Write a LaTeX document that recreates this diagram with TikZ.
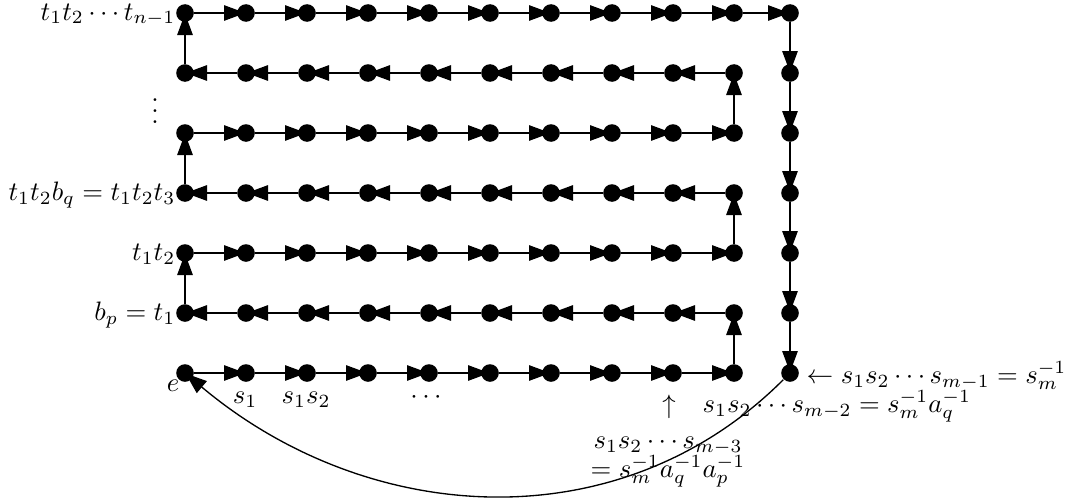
\documentclass[tikz,border=0pt]{standalone}
\usetikzlibrary{arrows.meta}
\begin{document}
\begin{tikzpicture}[x=0.375pt,y=-0.375pt,line width=0.5pt,
  vtx/.style={circle,fill=black,inner sep=0pt,minimum size=6.6pt},
  arr/.style={-{Triangle[length=8pt,width=5.8pt]},shorten >=-3.3pt},
  lbl/.style={inner sep=0pt,anchor=base}]
\useasboundingbox (0,0) rectangle (1070,503);
% grid vertices
\foreach \i in {0,...,9}
  \foreach \j in {0,...,6}
    \node[vtx] (n\i\j) at ({185+61*\i},{13+60*\j}) {};
\foreach \j in {0,...,6}
  \node[vtx] (r\j) at (790,{13+60*\j}) {};
% rows going right
\foreach \j in {0,2,4,6}
  \foreach \i [count=\k] in {0,...,8}
    \draw[arr] (n\i\j) -- (n\k\j);
% rows going left
\foreach \j in {1,3,5}
  \foreach \i [count=\k] in {0,...,8}
    \draw[arr] (n\k\j) -- (n\i\j);
% vertical links
\draw[arr] (n96) -- (n95);
\draw[arr] (n94) -- (n93);
\draw[arr] (n92) -- (n91);
\draw[arr] (n05) -- (n04);
\draw[arr] (n03) -- (n02);
\draw[arr] (n01) -- (n00);
% top to right column
\draw[arr] (n90) -- (r0);
\foreach \j [count=\k] in {0,...,5}
  \draw[arr] (r\j) -- (r\k);
% return curve
\draw[arr] (r6) to[out=-135,in=-40] (n06);
% labels
\node[lbl,anchor=base east] (Ltop) at (176,20) {$t_1t_2\cdots t_{n-1}$};
\node[lbl] (Lvd) at (155,123) {$\vdots$};
\node[lbl,anchor=base east] (Lbq) at (176,200) {$t_1t_2b_q = t_1t_2t_3$};
\node[lbl,anchor=base east] (Ltt) at (176,260) {$t_1t_2$};
\node[lbl,anchor=base east] (Lbp) at (176,320) {$b_p = t_1$};
\node[lbl] (Le) at (173,391) {$e$};
\node[lbl] (Ls1) at (245,403) {$s_1$};
\node[lbl] (Ls12) at (306,403) {$s_1s_2$};
\node[lbl] (Ldots) at (426,403) {$\cdots$};
\node[lbl] (Lup) at (669,413) {$\uparrow$};
\node[lbl] (Lm3a) at (668,448) {$s_1s_2\cdots s_{m-3}$};
\node[lbl] (Lm3b) at (668,477) {$= s_m^{-1}a_q^{-1}a_p^{-1}$};
\node[lbl,anchor=base west] (Lm2) at (702,412) {$s_1s_2\cdots s_{m-2} = s_m^{-1}a_q^{-1}$};
\node[lbl,anchor=base west] (Lm1) at (806,383) {$\leftarrow s_1s_2\cdots s_{m-1} = s_m^{-1}$};
\end{tikzpicture}
\end{document}
